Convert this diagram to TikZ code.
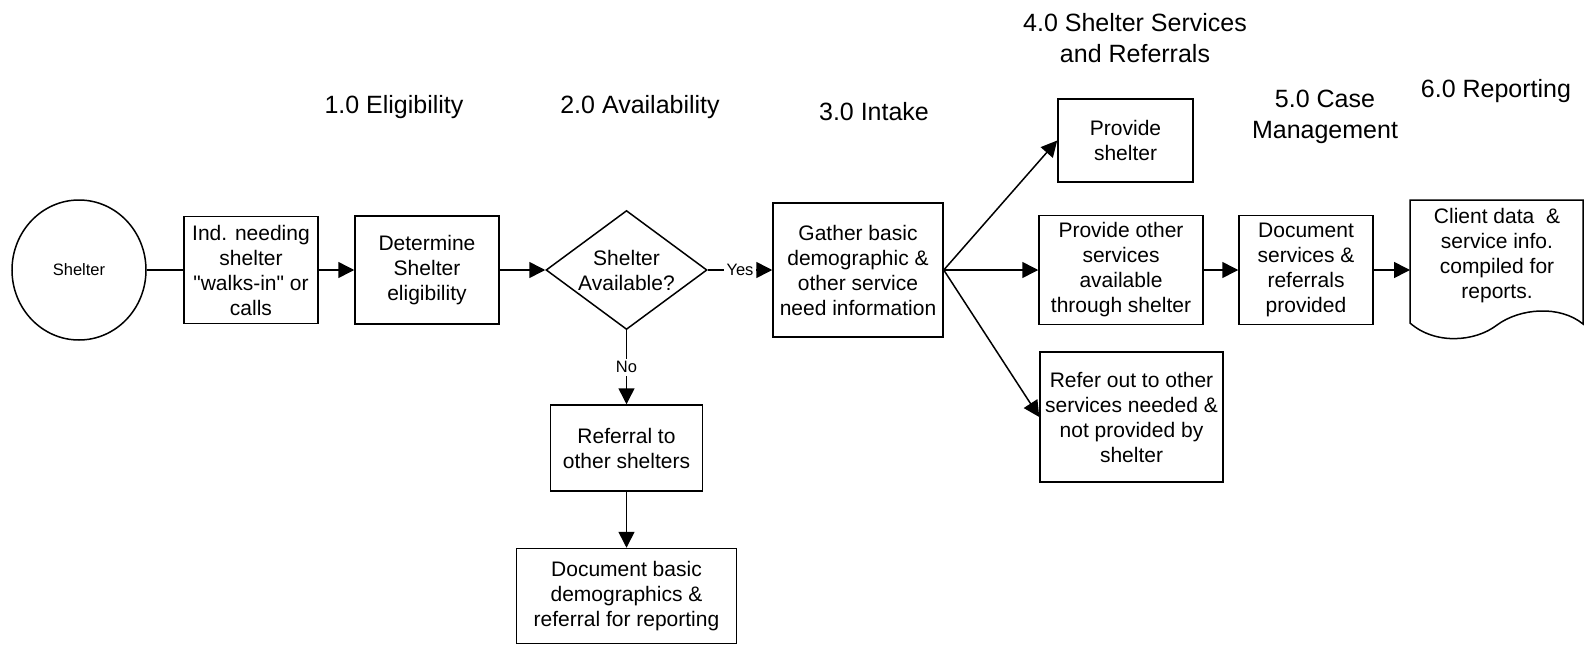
\documentclass[tikz,border=0pt]{standalone}
\usepackage{fontspec}
\setmainfont{Liberation Sans}[Ligatures=TeXOff]
\usetikzlibrary{arrows.meta,shapes.geometric}
\newcommand\boxtxt{\fontsize{21pt}{25pt}\selectfont}
\newcommand\titletxt{\fontsize{25pt}{31pt}\selectfont}
\newcommand\lbltxt{\fontsize{16.5pt}{19pt}\selectfont}
\begin{document}
\begin{tikzpicture}[x=1pt,y=-1pt,
  proc/.style={draw, line width=1.5pt, align=center, font=\boxtxt, inner sep=0pt},
  ttl/.style={align=center, font=\titletxt, inner sep=0pt},
  lbl/.style={font=\lbltxt, fill=white, inner sep=3pt},
  link/.style={line width=1.5pt},
  arr/.style={line width=1.5pt, -{Triangle[length=16pt,width=16pt]}}]
\useasboundingbox (0,0) rectangle (1589,645);

% titles
\node[ttl, anchor=base] (t1) at (394,113) {1.0 Eligibility};
\node[ttl, anchor=base] (t2) at (640,113) {2.0 Availability};
\node[ttl, anchor=base] (t3) at (874,120) {3.0 Intake};
\node[ttl] (t4) at (1135,38.5) {4.0 Shelter Services\\and Referrals};
\node[ttl] (t5) at (1325,116.5) {5.0 Case\\Management};
\node[ttl, anchor=base] (t6) at (1496,97) {6.0 Reporting};

% nodes
\node[draw, ellipse, line width=1.5pt, minimum width=134pt, minimum height=140pt,
      font=\lbltxt, inner sep=0pt] (start) at (79,270) {Shelter};
\node[proc, minimum width=134pt, minimum height=107pt] (ind) at (251,270)
  {Ind. needing\\shelter\\"walks-in" or\\calls};
\node[proc, minimum width=144pt, minimum height=108pt] (det) at (427,270)
  {Determine\\Shelter\\eligibility};
\node[draw, diamond, line width=1.5pt, aspect=1.35, inner sep=0pt,
      minimum width=161pt, minimum height=119pt, align=center, font=\boxtxt]
  (avail) at (626.5,270) {Shelter\\Available?};
\node[proc, minimum width=170pt, minimum height=134pt] (gather) at (858,270)
  {Gather basic\\demographic \&\\other service\\need information};
\node[proc, minimum width=135pt, minimum height=83pt] (pshel) at (1125.5,140.5)
  {Provide\\shelter};
\node[proc, minimum width=164pt, minimum height=109pt] (pother) at (1121,270)
  {Provide other\\services\\available\\through shelter};
\node[proc, minimum width=134pt, minimum height=109pt] (docsvc) at (1306,270)
  {Document\\services \&\\referrals\\provided};
\node[proc, minimum width=183pt, minimum height=130pt] (refer) at (1131.5,417)
  {Refer out to other\\services needed \&\\not provided by\\shelter};
\node[proc, minimum width=152pt, minimum height=86pt] (referral) at (626.5,448)
  {Referral to\\other shelters};
\node[proc, minimum width=220pt, minimum height=95pt] (docbasic) at (626.5,596)
  {Document basic\\demographics \&\\referral for reporting};

% document shape
\draw[line width=1.5pt] (1410,323) -- (1410,200) -- (1583,200) -- (1583,324)
  .. controls (1560,305) and (1520,308) .. (1497,325)
  .. controls (1475,342) and (1435,345) .. (1410,323) -- cycle;
\node[font=\boxtxt, align=center, inner sep=0pt] (report) at (1497,256)
  {Client data~~\&\\service info.\\compiled for\\reports.};
\coordinate (repin) at (1410,270);

% connectors
\draw[link] (start) -- (ind);
\draw[arr] (ind) -- (det);
\draw[arr] (det) -- (avail);
\draw[arr] (avail) -- node[lbl] (yes) {Yes} (gather);
\draw[arr] (avail) -- node[lbl] (no) {No} (referral);
\draw[arr] (referral) -- (docbasic);
\draw[arr] (gather.east) -- (pshel.west);
\draw[arr] (gather.east) -- (pother.west);
\draw[arr] (gather.east) -- (refer.west);
\draw[arr] (pother) -- (docsvc);
\draw[arr] (docsvc) -- (repin);
\end{tikzpicture}
\end{document}
